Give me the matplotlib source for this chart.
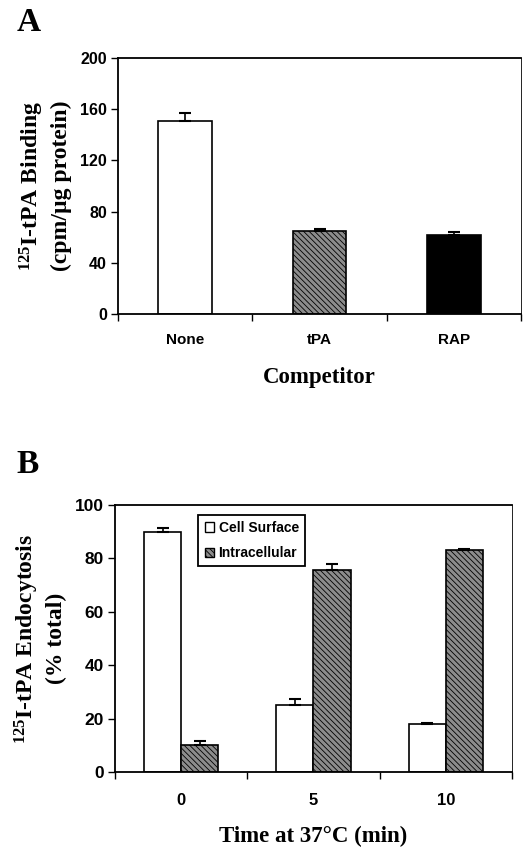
import numpy as np
import matplotlib
matplotlib.use('Agg')
import matplotlib.pyplot as plt
from matplotlib.patches import Patch

plt.rcParams['hatch.linewidth'] = 0.6

# panel A datos
competidores = ['None', 'tPA', 'RAP']
union_val = [151, 65, 62]
union_err = [6, 1.5, 2]

# panel B datos
tiempos = ['0', '5', '10']
superficie = [90, 25, 18]
superficie_err = [1.5, 2.5, 0.5]
intracel = [10, 75.5, 83]
intracel_err = [1.5, 2.5, 0.6]

serif = {'family': 'Liberation Serif', 'weight': 'bold'}
sans = {'family': 'Liberation Sans', 'weight': 'bold'}

fig = plt.figure(figsize=(5.23, 8.5), dpi=100)

# ---------- A ----------
axA = fig.add_axes([0.2256, 0.6306, 0.7706, 0.3012])
x = np.arange(len(competidores))
axA.bar(x[0], union_val[0], 0.4, color='white', edgecolor='black', linewidth=1.2)
axA.bar(x[1], union_val[1], 0.4, color='#8c8c8c', edgecolor='black', linewidth=1.2, hatch='\\\\\\\\\\\\')
axA.bar(x[2], union_val[2], 0.4, color='black', edgecolor='black', linewidth=1.2)
axA.errorbar(x, union_val, yerr=[np.zeros(3), union_err], fmt='none', ecolor='black',
             elinewidth=1.2, capsize=4, capthick=1.5)
axA.set_xlim(-0.5, 2.5)
axA.set_ylim(0, 200)
axA.set_yticks(np.arange(0, 201, 40))
axA.set_xticks([-0.5, 0.5, 1.5, 2.5])
axA.set_xticks(x, minor=True)
axA.set_xticklabels([])
axA.set_xticklabels(competidores, minor=True, fontdict=sans, fontsize=11)
axA.tick_params(axis='x', which='minor', length=0, pad=14)
axA.tick_params(axis='x', which='major', length=5, direction='out', width=1)
axA.tick_params(axis='y', length=5, width=1, pad=3)
for lab in axA.get_yticklabels():
    lab.set_fontproperties(sans)
    lab.set_fontsize(11.5)
axA.set_xlabel('Competitor', fontdict=serif, fontsize=16.5, labelpad=14)
axA.set_ylabel('$\\mathregular{^{125}}$I-tPA Binding\n(cpm/\u00b5g protein)', fontdict=serif,
               fontsize=17, labelpad=6, linespacing=1.25)
for s in axA.spines.values():
    s.set_linewidth(1.3)
axA.spines['right'].set_linewidth(0.6)
fig.text(0.032, 0.964, 'A', fontdict=serif, fontsize=24)

# ---------- B ----------
axB = fig.add_axes([0.2199, 0.0918, 0.759, 0.3141])
xb = np.arange(len(tiempos))
w = 0.28
axB.bar(xb - w / 2, superficie, w, color='white', edgecolor='black', linewidth=1.2)
axB.bar(xb + w / 2, intracel, w, color='#8c8c8c', edgecolor='black', linewidth=1.2,
        hatch='\\\\\\\\\\\\')
axB.errorbar(xb - w / 2, superficie, yerr=[np.zeros(3), superficie_err], fmt='none',
             ecolor='black', elinewidth=1.2, capsize=4, capthick=1.5)
axB.errorbar(xb + w / 2, intracel, yerr=[np.zeros(3), intracel_err], fmt='none',
             ecolor='black', elinewidth=1.2, capsize=4, capthick=1.5)
axB.set_xlim(-0.5, 2.5)
axB.set_ylim(0, 100)
axB.set_yticks(np.arange(0, 101, 20))
axB.set_xticks([-0.5, 0.5, 1.5, 2.5])
axB.set_xticks(xb, minor=True)
axB.set_xticklabels([])
axB.set_xticklabels(tiempos, minor=True, fontdict=sans, fontsize=12)
axB.tick_params(axis='x', which='minor', length=0, pad=15)
axB.tick_params(axis='x', which='major', length=5, direction='out', width=1)
axB.tick_params(axis='y', length=5, width=1, pad=3)
for lab in axB.get_yticklabels():
    lab.set_fontproperties(sans)
    lab.set_fontsize(12.5)
axB.set_xlabel('Time at 37\u00b0C (min)', fontdict=serif, fontsize=16.5, labelpad=13)
axB.set_ylabel('$\\mathregular{^{125}}$I-tPA Endocytosis\n(% total)', fontdict=serif,
               fontsize=17, labelpad=6, linespacing=1.25)
for s in axB.spines.values():
    s.set_linewidth(1.3)
axB.spines['right'].set_linewidth(0.6)
manejadores = [Patch(facecolor='white', edgecolor='black', label='Cell Surface'),
               Patch(facecolor='#8c8c8c', edgecolor='black', hatch='\\\\\\\\\\\\', label='Intracellular')]
leg = axB.legend(handles=manejadores, loc='upper left', bbox_to_anchor=(0.21, 0.963),
                 prop={'family': 'Liberation Sans', 'weight': 'bold', 'size': 10},
                 fancybox=False, edgecolor='black', framealpha=1, handlelength=0.7,
                 handleheight=0.7, handletextpad=0.3, borderpad=0.45, labelspacing=0.8,
                 borderaxespad=0)
leg.get_frame().set_linewidth(1.3)
fig.text(0.032, 0.443, 'B', fontdict=serif, fontsize=24)

plt.savefig('out.png', dpi=100)
plt.close()
